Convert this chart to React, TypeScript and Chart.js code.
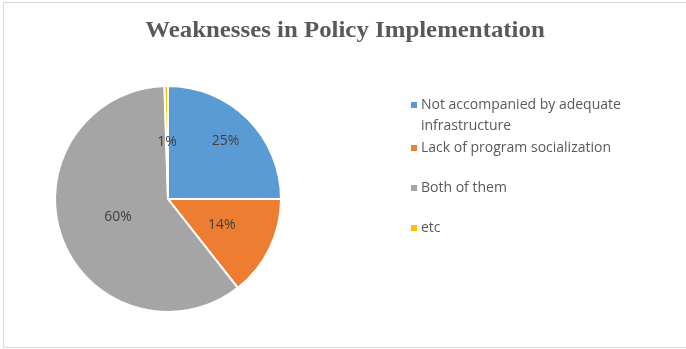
import React, { useEffect, useRef } from "react";
import { Chart, registerables } from "chart.js";

Chart.register(...registerables);

const TITLE = "Weaknesses in Policy Implementation";
const categories = [
  "Not accompanied by adequate infrastructure",
  "Lack of program socialization",
  "Both of them",
  "etc",
];
const legendLines = [
  ["Not accompanied by adequate", "infrastructure"],
  ["Lack of program socialization"],
  ["Both of them"],
  ["etc"],
];
const values = [25, 14.4, 60.1, 0.5];
const colors = ["#5B9BD5", "#ED7D31", "#A5A5A5", "#FFC000"];
const labelRadiusFrac = [0.72, 0.53, 0.47, 0.5];

const decorPlugin = {
  id: "decor",
  beforeDraw(chart: any) {
    const ctx = chart.ctx;
    ctx.save();
    ctx.fillStyle = "#ffffff";
    ctx.fillRect(0, 0, chart.width, chart.height);
    ctx.strokeStyle = "#D9D9D9";
    ctx.lineWidth = 1;
    ctx.strokeRect(3.5, 2.5, 700, 345);
    ctx.restore();
  },
  afterDraw(chart: any) {
    const ctx = chart.ctx;
    ctx.save();
    // title (horizontally stretched like the original)
    ctx.save();
    ctx.translate(345, 31);
    ctx.scale(1.08, 1);
    ctx.fillStyle = "#595959";
    ctx.font = "bold 23px 'Liberation Serif', 'Times New Roman', serif";
    ctx.textAlign = "center";
    ctx.textBaseline = "middle";
    ctx.fillText(TITLE, 0, 0);
    ctx.restore();

    // data labels
    const meta = chart.getDatasetMeta(0);
    const total = values.reduce((a, b) => a + b, 0);
    ctx.textAlign = "center";
    ctx.textBaseline = "middle";
    ctx.font = "14px 'Open Sans', 'DejaVu Sans', sans-serif";
    ctx.fillStyle = "#404040";
    meta.data.forEach((arc: any, i: number) => {
      const p = arc.getProps(["x", "y", "startAngle", "endAngle", "outerRadius"], true);
      const mid = (p.startAngle + p.endAngle) / 2;
      const r = p.outerRadius * labelRadiusFrac[i];
      const x = p.x + Math.cos(mid) * r;
      const y = p.y + Math.sin(mid) * r;
      ctx.fillText(Math.round((values[i] / total) * 100) + "%", x, y);
    });

    // legend
    ctx.textAlign = "left";
    ctx.textBaseline = "middle";
    ctx.font = "14px 'Open Sans', 'DejaVu Sans', sans-serif";
    const lx = 411;
    let y = 105;
    categories.forEach((_, i) => {
      ctx.fillStyle = colors[i];
      ctx.fillRect(lx, y - 3, 6, 6);
      ctx.fillStyle = "#595959";
      legendLines[i].forEach((line, j) => {
        ctx.fillText(line, lx + 10, y + j * 21);
      });
      y += 40 + (legendLines[i].length > 1 ? 3 : 0);
    });
    ctx.restore();
  },
};

export default function App() {
  const ref = useRef<HTMLCanvasElement | null>(null);
  useEffect(() => {
    document.body.style.margin = "0";
    const chart = new Chart(ref.current as HTMLCanvasElement, {
      type: "pie",
      data: {
        labels: categories,
        datasets: [
          {
            data: values,
            backgroundColor: colors,
            borderColor: "#ffffff",
            borderWidth: 2,
          },
        ],
      },
      options: {
        responsive: false,
        animation: false,
        layout: { padding: { left: 54, right: 404, top: 85, bottom: 36 } },
        plugins: {
          legend: { display: false },
          title: { display: false },
          tooltip: { enabled: false },
        },
      },
      plugins: [decorPlugin],
    });
    return () => chart.destroy();
  }, []);
  return <canvas ref={ref} width={686} height={349} style={{ display: "block" }} />;
}
